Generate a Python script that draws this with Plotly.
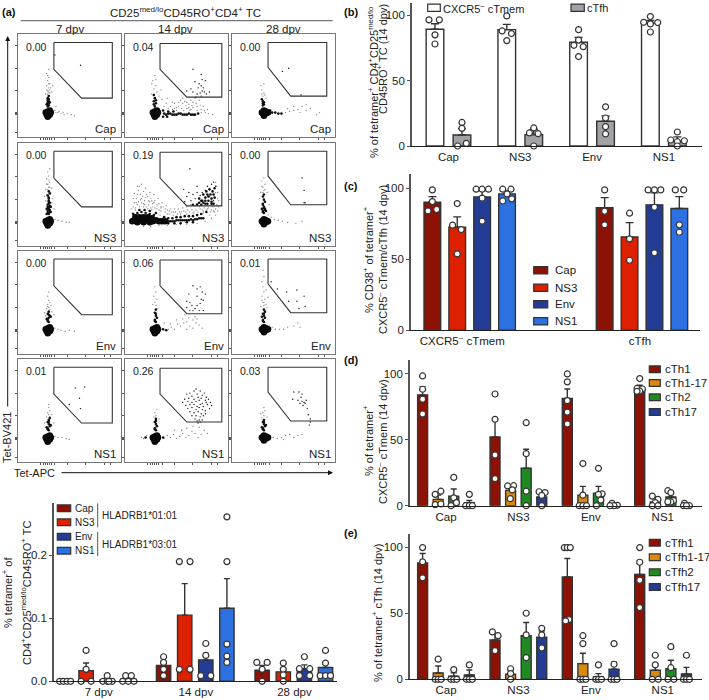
import plotly.graph_objects as go

W, H = 709, 700
FONT = "Liberation Sans"
INK = "#333333"
AX = "#555555"

# ---- flow panels, positions are % of panel width / height
blob_core = [(28, 22), (31, 22), (29, 25), (31, 26), (29, 20), (32, 24), (27, 24)]
blob_core_c3 = [(30, 23), (33, 23), (31, 26), (33, 25), (31, 21), (35, 24), (29, 24)]

cap7_mid = [(29, 30), (30, 31), (29, 32), (30, 33), (29, 34), (30, 35), (29, 36), (30, 37), (29, 38), (30, 40), (28, 32), (31, 34)]
cap7_dust = [(29, 45), (30, 48), (28, 50), (31, 52), (29, 55), (30, 58), (28, 62), (31, 46), (27, 42), (33, 44),
             (36, 26), (39, 24), (42, 23), (45, 22), (48, 23), (52, 22), (55, 21), (37, 30), (34, 50), (30, 66),
             (29, 42), (31, 43), (30, 44), (28, 46), (32, 48), (30, 52), (29, 60), (37, 24), (40, 25), (44, 24)]
cap7_dots = [(61, 70), (36, 80)]

cap14_mid = [(29, 30), (28, 32), (30, 33), (28, 35), (30, 36), (29, 38), (28, 41), (38, 23), (40, 22), (42, 23), (44, 23),
             (46, 22), (48, 22), (50, 22), (52, 23), (54, 23), (56, 22), (58, 22), (60, 22), (62, 23), (64, 22),
             (66, 22), (68, 22), (71, 23), (37, 26), (42, 25), (47, 25), (37, 20), (41, 20)]
cap14_dust = [(28, 47), (30, 50), (27, 55), (31, 44), (26, 42), (33, 40), (36, 37), (40, 33), (44, 30), (48, 28),
              (52, 30), (56, 33), (60, 28), (64, 27), (54, 36), (58, 35), (62, 32), (66, 34), (70, 30), (74, 27),
              (78, 24), (81, 23), (85, 22), (72, 36), (68, 38), (76, 30), (50, 26), (57, 26), (63, 26), (70, 26),
              (46, 34), (30, 56), (26, 52), (29, 60), (35, 46), (41, 38), (74, 24), (66, 29), (80, 27), (38, 30),
              (42, 28), (46, 27), (50, 29), (55, 28), (59, 31), (62, 29), (65, 31), (69, 33), (73, 31), (77, 26),
              (52, 34), (48, 33), (60, 34), (64, 36), (56, 38)]
cap14_dots = [(66, 66), (74, 61), (75, 56), (68, 54), (72, 52), (78, 55), (76, 48), (71, 48), (64, 47), (60, 45),
              (75, 45), (73, 43), (77, 44), (66, 44), (79, 42), (70, 42), (74, 40), (69, 39), (82, 44), (74, 50)]

cap28_mid = [(30, 31), (31, 32), (30, 33), (31, 34), (30, 35), (29, 37), (39, 24), (42, 24), (45, 23), (48, 23), (37, 26)]
cap28_dust = [(30, 40), (31, 43), (29, 46), (28, 50), (31, 52), (33, 38), (52, 24), (56, 25), (60, 26), (64, 27),
              (68, 30), (72, 26), (76, 28), (60, 30), (66, 24), (82, 22), (85, 24), (54, 28), (72, 32), (29, 42), (32, 41)]
cap28_dots = [(49, 64), (55, 67), (67, 41)]

ns37_mid = [(30, 31), (29, 32), (31, 33), (29, 34), (31, 35), (30, 36), (30, 37), (29, 38), (31, 39), (29, 40), (31, 42),
            (30, 41), (30, 43), (30, 44), (30, 46), (30, 47), (29, 49), (31, 51), (30, 53), (30, 38), (28, 36), (32, 33),
            (28, 31), (32, 38)]
ns37_dust = [(30, 57), (29, 60), (31, 62), (28, 65), (30, 68), (29, 72), (27, 55), (33, 56), (26, 48), (34, 46),
             (36, 26), (39, 25), (43, 24), (47, 23), (50, 23), (35, 36), (31, 75), (28, 60), (29, 55), (31, 57),
             (30, 64), (28, 50), (32, 52), (27, 44), (33, 42)]
ns37_dots = []

ns314_core = [(9, 25), (12, 26), (15, 25), (18, 26), (21, 25), (24, 25), (27, 24), (30, 25), (33, 24), (12, 23),
              (18, 23), (24, 23), (7, 24), (36, 24), (39, 24), (10, 28), (14, 28), (18, 28), (22, 28), (26, 27)]
ns314_mid = [(42, 24), (44, 24), (46, 24), (48, 24), (50, 25), (52, 25), (54, 25), (56, 25), (58, 25), (60, 25), (62, 25),
             (64, 26), (66, 25), (68, 26), (70, 26), (72, 27), (74, 27), (76, 27), (12, 32), (16, 33), (20, 32), (24, 31),
             (28, 30), (8, 31), (14, 35), (19, 35), (24, 34), (30, 32), (38, 28), (42, 27), (46, 27), (50, 28), (54, 28),
             (58, 29), (62, 29), (66, 29), (70, 30), (74, 31), (79, 33), (42, 22), (48, 22), (54, 22), (60, 23), (66, 23),
             (72, 46), (75, 44), (78, 47), (81, 44), (84, 46), (76, 42), (80, 41), (83, 50), (85, 53), (87, 56),
             (80, 50), (76, 50), (72, 42), (84, 41), (87, 47), (82, 55), (78, 41), (74, 40), (78, 44), (81, 48), (84, 43),
             (79, 53), (86, 50), (74, 44), (70, 40), (66, 40), (86, 41)]
ns314_dust = [(8, 38), (12, 40), (16, 42), (11, 46), (15, 50), (19, 44), (23, 40), (27, 38), (31, 36), (35, 34),
              (14, 38), (18, 38), (22, 36), (26, 35), (10, 35), (7, 32), (9, 42), (13, 54), (17, 48), (21, 50),
              (25, 46), (29, 44), (33, 41), (37, 38), (41, 35), (45, 33), (49, 33), (53, 33), (57, 34), (61, 35),
              (65, 35), (69, 35), (73, 36), (77, 37), (81, 37), (85, 38), (89, 40), (90, 46), (90, 52), (89, 58),
              (60, 38), (64, 40), (68, 39), (72, 38), (76, 34), (80, 36), (84, 35), (88, 36), (56, 37), (52, 36),
              (48, 36), (44, 36), (40, 39), (36, 42), (32, 46), (28, 50), (24, 52), (20, 56), (16, 60), (12, 58),
              (86, 34), (90, 34), (82, 30), (76, 32), (66, 32), (60, 31), (54, 31), (47, 30), (41, 31), (34, 30),
              (18, 19), (25, 19), (33, 20), (41, 20), (50, 21), (60, 21), (70, 22), (78, 24), (84, 27), (88, 30),
              (10, 37), (13, 43), (18, 41), (21, 38), (25, 37), (29, 37), (33, 35), (12, 50), (16, 46), (20, 47),
              (24, 43), (28, 42), (35, 38), (39, 36), (43, 34), (9, 51), (14, 58), (18, 53), (22, 48), (26, 44),
              (6, 36), (8, 46), (11, 42), (15, 45), (19, 40), (23, 44), (27, 41), (31, 40), (35, 37), (39, 33),
              (43, 31), (47, 33), (51, 31), (55, 33), (59, 33), (63, 33), (67, 33), (71, 33), (75, 35), (79, 35),
              (83, 33), (87, 33), (91, 38), (91, 44), (88, 52), (88, 62)]
ns314_dots = [(63, 75), (70, 58), (57, 55), (62, 52), (66, 50), (60, 48), (58, 43), (64, 44), (68, 46), (70, 41),
              (73, 49), (75, 52), (78, 54), (80, 58), (84, 60), (86, 62), (88, 58), (82, 48), (86, 44), (70, 52)]

ns328_mid = [(31, 32), (30, 33), (30, 34), (32, 35), (32, 36), (31, 37), (31, 38), (30, 40), (30, 41), (32, 43), (31, 45),
             (30, 48), (31, 50), (33, 34), (29, 36)]
ns328_dust = [(31, 54), (30, 57), (32, 60), (29, 63), (31, 66), (28, 52), (34, 52), (27, 46), (36, 40), (38, 28),
              (41, 26), (45, 25), (49, 24), (54, 23), (62, 22), (68, 24), (35, 30), (30, 52), (32, 55), (29, 58)]
ns328_dots = [(68, 66), (70, 54), (70, 42), (71, 42)]

env7_mid = [(30, 31), (29, 32), (29, 33), (30, 35), (31, 37), (29, 39), (30, 41), (28, 34), (32, 36), (30, 38)]
env7_dust = [(30, 45), (29, 48), (31, 50), (30, 52), (29, 56), (28, 44), (32, 47), (30, 60), (36, 25), (39, 24),
             (42, 23), (46, 22), (50, 23), (55, 22), (35, 38), (26, 40), (31, 43), (29, 46), (27, 37), (33, 41)]
env7_dots = []

env14_mid = [(30, 31), (29, 32), (29, 33), (31, 35), (30, 37), (29, 40), (30, 43), (37, 24), (40, 23), (30, 39)]
env14_dust = [(30, 47), (29, 50), (31, 53), (28, 56), (30, 60), (29, 65), (27, 48), (32, 44), (42, 24), (45, 26),
              (48, 24), (51, 29), (54, 27), (57, 30), (60, 31), (63, 27), (66, 33), (69, 30), (72, 28), (75, 25),
              (50, 33), (56, 34), (62, 35), (68, 36), (60, 24), (66, 25), (44, 29), (38, 30), (70, 34), (58, 38)]
env14_dots = [(66, 66), (70, 63), (73, 65), (62, 58), (75, 60), (78, 58), (70, 56), (74, 53), (60, 51), (63, 50),
              (73, 49), (76, 52), (65, 47), (70, 47), (60, 45), (68, 44), (72, 42), (76, 42), (63, 42), (66, 42)]

env28_mid = [(31, 31), (30, 32), (30, 33), (32, 35), (31, 37), (30, 39), (32, 41), (31, 43), (29, 36), (31, 39)]
env28_dust = [(31, 47), (30, 50), (32, 53), (29, 56), (31, 60), (30, 65), (29, 70), (31, 75), (30, 81), (28, 46),
              (34, 45), (36, 28), (39, 26), (42, 24), (46, 24), (50, 24), (54, 26), (60, 27), (64, 30), (66, 26),
              (35, 55), (33, 62), (31, 50), (29, 52), (33, 48)]
env28_dots = [(38, 70), (44, 63), (53, 60), (63, 62), (55, 51), (63, 51), (70, 56), (65, 44), (71, 46)]

ns17_mid = [(30, 31), (29, 32), (29, 33), (31, 35), (30, 37), (29, 39), (30, 41), (31, 43), (28, 34), (32, 36), (30, 39)]
ns17_dust = [(30, 46), (29, 48), (31, 50), (30, 53), (28, 44), (33, 46), (36, 25), (39, 24), (43, 24), (47, 23),
             (50, 22), (35, 38), (26, 38), (30, 56)]
ns17_dots = [(56, 72), (65, 73), (60, 62), (61, 52), (50, 56)]

ns114_mid = [(30, 31), (29, 32), (29, 33), (31, 35), (30, 37), (29, 39), (30, 42), (37, 24), (20, 24), (30, 40)]
ns114_dust = [(30, 45), (29, 48), (31, 51), (28, 44), (33, 42), (18, 23), (16, 24), (21, 26), (38, 23), (41, 26),
              (44, 24), (47, 27), (50, 23), (53, 25), (56, 28), (59, 24), (62, 26), (65, 30), (68, 28), (71, 24),
              (74, 27), (77, 31), (80, 28), (60, 33), (66, 35), (72, 34), (55, 31), (48, 31)]
ns114_dots = [(69, 71), (63, 67), (67, 69), (73, 69), (77, 67), (60, 66), (65, 64), (70, 66), (75, 65), (79, 63),
              (58, 61), (62, 62), (67, 61), (71, 63), (74, 62), (78, 60), (81, 61), (56, 58), (61, 59), (65, 58),
              (69, 59), (72, 60), (75, 57), (79, 58), (83, 58), (59, 55), (63, 56), (67, 56), (70, 54), (73, 56),
              (76, 54), (80, 56), (84, 55), (61, 52), (65, 53), (69, 51), (72, 53), (75, 51), (78, 50), (82, 52),
              (63, 49), (67, 48), (71, 49), (74, 47), (78, 47), (65, 45), (69, 45), (73, 44), (76, 45), (68, 42),
              (72, 41), (75, 41), (73, 39), (71, 38), (70, 40)]

ns128_mid = [(31, 31), (30, 32), (30, 33), (32, 35), (31, 37), (30, 39), (31, 41), (29, 34), (33, 36), (31, 39)]
ns128_dust = [(31, 45), (30, 48), (32, 50), (29, 43), (31, 53), (34, 44), (36, 26), (40, 24), (44, 23), (48, 24),
              (52, 26), (56, 27), (60, 24), (64, 26), (68, 27), (50, 22), (28, 47)]
ns128_dots = [(60, 68), (65, 68), (68, 66), (59, 61), (67, 63), (64, 60), (68, 59), (66, 57), (70, 58), (72, 60),
              (69, 55), (71, 57), (73, 52), (74, 46), (76, 42), (76, 39), (75, 36)]

flow_freq = [["0.00", "0.04", "0.00"], ["0.00", "0.19", "0.00"], ["0.00", "0.06", "0.01"], ["0.01", "0.26", "0.03"]]
flow_names = ["Cap", "NS3", "Env", "NS1"]
flow_days = ["7 dpv", "14 dpv", "28 dpv"]
flow_core = [[blob_core, blob_core, blob_core_c3], [blob_core, ns314_core, blob_core_c3],
             [blob_core, blob_core, blob_core_c3], [blob_core, blob_core, blob_core_c3]]
flow_mid = [[cap7_mid, cap14_mid, cap28_mid], [ns37_mid, ns314_mid, ns328_mid],
            [env7_mid, env14_mid, env28_mid], [ns17_mid, ns114_mid, ns128_mid]]
flow_dust = [[cap7_dust, cap14_dust, cap28_dust], [ns37_dust, ns314_dust, ns328_dust],
             [env7_dust, env14_dust, env28_dust], [ns17_dust, ns114_dust, ns128_dust]]
flow_dots = [[cap7_dots, cap14_dots, cap28_dots], [ns37_dots, ns314_dots, ns328_dots],
             [env7_dots, env14_dots, env28_dots], [ns17_dots, ns114_dots, ns128_dots]]
gate_x = [[35, 92, 92, 62, 35, 35], [34, 94, 94, 60, 34, 34], [35, 92, 92, 57, 35, 35]]
gate_y = [[92, 92, 38, 38, 66, 92], [91, 91, 39, 39, 66, 91], [92, 92, 40, 40, 68, 92]]

# ---- bars: one list per bar, points are (sideways shift, value)
RED_D, RED, BLUE_D, BLUE = "#8c1206", "#dc2000", "#233c96", "#2d70e2"
ORANGE, GREEN = "#d98a0e", "#1f8a22"

time_means = [0, 0.017, 0.002, 0.004, 0.025, 0.105, 0.034, 0.116, 0.0175, 0.015, 0.02, 0.022]
time_sems = [0, 0.012, 0.002, 0.002, 0.007, 0.05, 0.0105, 0.047, 0.0075, 0.006, 0.006, 0.008]
time_points = [
    [(-16, 0), (-5, 0), (6, 0), (17, 0)],
    [(0, 0.049), (0, 0.019), (-15, 0), (15, 0)],
    [(0, 0.009), (-13, 0), (0, 0), (15, 0), (5, 0)],
    [(-8, 0.009), (9, 0.009), (-17, 0), (0, 0), (17, 0)],
    [(0, 0.039), (0, 0.03), (0, 0.019), (0, 0.009)],
    [(-16, 0.19), (16, 0.19), (-16, 0.019), (16, 0.019)],
    [(0, 0.06), (0, 0.041), (-15, 0.009), (15, 0.009)],
    [(0, 0.261), (0, 0.19), (0, 0.059), (0, 0.04), (0, 0.03)],
    [(-16, 0.03), (15, 0.03), (0, 0.019), (0, 0)],
    [(0, 0.029), (0, 0.019), (0, 0.01), (0, 0)],
    [(0, 0.039), (-15, 0.02), (16, 0.02), (-15, 0.009), (16, 0.009)],
    [(0, 0.049), (0, 0.029), (-16, 0.009), (0, 0.009), (15, 0.009)],
]
time_pos = [0, 1, 2, 3, 4.67, 5.67, 6.67, 7.67, 9.34, 10.34, 11.34, 12.34]
time_ticks = [1.6, 6.2, 10.87]
time_labels = ["7 dpv", "14 dpv", "28 dpv"]

phen_means = [89.3, 8.4, 89, 8.7, 79.3, 18.9, 94, 3.6]
phen_sems = [4.2, 4.9, 4, 4.1, 3.7, 4.1, 2, 3.4]
phen_points = [
    [(-18, 96.5), (13, 96.5), (0, 85), (0, 78)],
    [(0, 18), (0, 13.5), (-13, 0), (13, 2)],
    [(0, 99.5), (-14, 88), (14, 86), (0, 80.6)],
    [(0, 13.8), (-13, 10), (13, 9.4), (0, 0)],
    [(0, 89), (0, 81), (-14, 77), (14, 76), (0, 68.4)],
    [(0, 30), (0, 21.4), (0, 14.8), (0, 9.2)],
    [(0, 99), (-20, 94.6), (22, 94.4), (0, 93.4), (0, 87.2)],
    [(0, 10.7), (-20, 4.6), (21, 4), (0, 3.3), (0, 0)],
]
phen_pos = [-0.188, 0.188, 0.812, 1.188, 1.812, 2.188, 2.812, 3.188]
phen_colors = ["#ffffff", "#a2a2a6"] * 4
phen_ticks = [0, 1, 2, 3]

cd38_means = [90.1, 72.5, 93.9, 96, 86.2, 65.7, 88.3, 85.7]
cd38_sems = [4, 7.3, 4.5, 2, 7.2, 10.1, 8.4, 8.4]
cd38_points = [
    [(0, 98.8), (0, 90.6), (-13, 84), (13, 85)],
    [(0, 89.2), (-14, 74), (12, 70.9), (0, 53.8)],
    [(-18, 99.3), (0, 99.3), (19, 99.3), (0, 93), (0, 76.8)],
    [(-13, 99.3), (12, 99.3), (0, 96), (-13, 91), (14, 92.5)],
    [(0, 98.8), (0, 83.8), (0, 74.2)],
    [(0, 82.4), (0, 64.3), (0, 49.3)],
    [(-19, 98.8), (0, 98.8), (19, 98.8), (0, 86.6), (0, 54.5)],
    [(-12, 98.8), (13, 98.8), (0, 74.2), (0, 69)],
]
cd38_pos = [0, 1, 2, 3, 6.92, 7.92, 8.92, 9.92]
cd38_ticks = [1.2, 8.34]
cd38_labels = ["CXCR5<sup>–</sup> cTmem", "cTfh"]

th_means = [84, 4.8, 7.3, 2.3, 52.2, 11.6, 28.4, 6.6, 81.5, 8, 9.4, 0.5, 87.3, 2.8, 6.6, 0.8]
th_sems = [6.4, 3.2, 5.4, 1.7, 14.6, 2.8, 14.4, 2.8, 7.1, 6.7, 5.3, 0.4, 4.1, 3.8, 2.8, 0.4]
th_points = [
    [(0, 98.5), (0, 88.4), (0, 80.8), (0, 69.6)],
    [(-9, 8.6), (8, 11), (-9, 0.8), (8, 1.3)],
    [(0, 21.5), (0, 6), (-8, 0), (8, 2.3)],
    [(0, 8.6), (-11, 0), (0, 0), (9, 0)],
    [(0, 84.8), (0, 65.6), (0, 38.5), (0, 20.5)],
    [(-9, 15), (9, 15.2), (5, 12), (-1, 5.3)],
    [(0, 63), (0, 39.5), (0, 11), (0, 0)],
    [(-8, 10.6), (10, 10), (0, 7.8), (0, 0)],
    [(0, 100), (0, 94), (0, 79.7), (0, 71), (0, 62)],
    [(0, 32), (0, 8), (-11, 0), (0, 0), (11, 0)],
    [(0, 28.4), (11, 9), (0, 8.6), (7, 4.3), (-6, 0)],
    [(-6, 1.8), (10, 0.3), (0, 0), (-12, 0)],
    [(0, 96.5), (-8, 89), (8, 88.6), (0, 87), (-8, 86.8)],
    [(-9, 7.3), (8, 4.8), (0, 2.3), (-9, 0), (8, 0)],
    [(-9, 11.4), (0, 9.9), (8, 3.8), (0, 2.8), (-9, 3)],
    [(-6, 1.8), (-9, 0), (9, 0), (0, 0)],
]
fh_means = [88.1, 4.8, 2.3, 3.3, 29.8, 3.8, 33, 31.8, 77.5, 11.9, 1.8, 7.6, 79.3, 6.8, 8, 4]
fh_sems = [7.1, 5.3, 2.7, 3.7, 5, 2.5, 10, 4.8, 13.9, 7.8, 2.5, 5.4, 10.7, 5.2, 6.4, 5]
fh_points = [
    [(0, 99.7), (0, 88.9), (0, 76.8)],
    [(0, 15.2), (-9, 0), (0, 0), (9, 0)],
    [(0, 7.3), (-9, 0), (0, 0), (9, 0)],
    [(0, 10.9), (-9, 0), (0, 0), (9, 0)],
    [(-8, 35.9), (9, 33), (0, 21.7)],
    [(0, 8), (0, 4.3), (0, 0)],
    [(0, 50), (0, 33.6), (0, 16.4)],
    [(0, 38.6), (0, 33.6), (0, 23.7)],
    [(-9, 99.7), (0, 99.7), (9, 99.7), (5, 45.2), (-5, 44.2)],
    [(0, 33), (0, 27), (-9, 0), (0, 0), (9, 0)],
    [(0, 10.9), (-8, 0), (0, 0), (9, 0)],
    [(0, 27), (0, 11.4), (-9, 0), (0, 0), (9, 0)],
    [(0, 99.7), (0, 88.6), (0, 75), (0, 54.3)],
    [(0, 18.2), (0, 10.9), (-9, 0), (9, 0)],
    [(0, 24.7), (0, 8.8), (-9, 0), (9, 0)],
    [(0, 18.2), (-9, 0), (0, 0), (9, 0)],
]
subset_pos = [0, 1, 2, 3, 4.65, 5.65, 6.65, 7.65, 9.29, 10.29, 11.29, 12.29, 13.94, 14.94, 15.94, 16.94]
subset_colors = [RED_D, ORANGE, GREEN, BLUE_D] * 4
subset_ticks = [1.5, 6.15, 10.8, 15.42]
antigens = ["Cap", "NS3", "Env", "NS1"]

fig = go.Figure()
annotations = []
shapes = []
axes = {}
axis_no = 0


def text(x, y, s, size=11, anchor="center", angle=0, bold=False, color="#222222"):
    annotations.append(dict(x=x / W, y=1 - y / H, xref="paper", yref="paper", text=f"<b>{s}</b>" if bold else s,
                            showarrow=False, xanchor=anchor, yanchor="middle", textangle=angle,
                            font=dict(family=FONT, size=size, color=color)))


def new_axes(left, right, top, bottom):
    global axis_no
    axis_no += 1
    suffix = "" if axis_no == 1 else str(axis_no)
    axes["xaxis" + suffix] = dict(domain=[left / W, right / W], anchor="y" + suffix, automargin=False)
    axes["yaxis" + suffix] = dict(domain=[1 - bottom / H, 1 - top / H], anchor="x" + suffix, automargin=False)
    return suffix


def flow_scatter(suffix, pts, size, color):
    if pts:
        fig.add_trace(go.Scatter(x=[p[0] for p in pts], y=[p[1] for p in pts], mode="markers", xaxis="x" + suffix,
                                 yaxis="y" + suffix, showlegend=False,
                                 marker=dict(size=size, color=color, line=dict(width=0))))


def bar_panel(box, pos, means, sems, colors, points, xrange, yrange, unit, ticks, labels, yticks, ylabels):
    s = new_axes(*box)
    fig.add_trace(go.Bar(x=pos, y=means, width=unit["bar"], xaxis="x" + s, yaxis="y" + s, showlegend=False,
                         marker=dict(color=colors, line=dict(color=INK, width=1.4)),
                         error_y=dict(type="data", symmetric=False, array=sems, arrayminus=[0] * len(sems),
                                      color=INK, thickness=1.4, width=unit["cap"])))
    for p, pts in zip(pos, points):
        fig.add_trace(go.Scatter(x=[p + d / unit["shift"] for d, v in pts], y=[v for d, v in pts], mode="markers",
                                 xaxis="x" + s, yaxis="y" + s, showlegend=False, cliponaxis=False,
                                 marker=dict(size=6, color="white", line=dict(color=INK, width=1.2))))
    axes["xaxis" + s].update(range=xrange, showgrid=False, zeroline=False, showline=True, linecolor="#222222",
                             linewidth=1.2, tickvals=ticks, ticktext=labels, ticks="",
                             tickfont=dict(family=FONT, size=11.5, color="#222222"))
    axes["yaxis" + s].update(range=yrange, showgrid=False, zeroline=False, showline=True, linecolor=AX, linewidth=1.6,
                             tickvals=yticks, ticktext=ylabels, ticks="outside", ticklen=3, tickcolor=AX, tickwidth=1.2,
                             tickfont=dict(family=FONT, size=11.5, color="#222222"))


def legend_box(x0, x1, yc, h, color):
    shapes.append(dict(type="rect", xref="paper", yref="paper", x0=x0 / W, x1=x1 / W, y0=1 - (yc - h / 2) / H,
                       y1=1 - (yc + h / 2) / H, fillcolor=color, line=dict(color=INK, width=1.2)))


def line(x0, y0, x1, y1, color, width):
    shapes.append(dict(type="line", xref="paper", yref="paper", x0=x0 / W, x1=x1 / W, y0=1 - y0 / H, y1=1 - y1 / H,
                       line=dict(color=color, width=width)))


def arrow(x0, y0, x1, y1):
    annotations.append(dict(x=x1 / W, y=1 - y1 / H, xref="paper", yref="paper", ax=x0 - x1, ay=y0 - y1, axref="pixel",
                            ayref="pixel", text="", showarrow=True, arrowhead=2, arrowsize=1, arrowwidth=1,
                            arrowcolor="#111111"))


# ---- (a) flow grid
col_edges = [(18, 120.5), (125, 228), (232, 335)]
row_edges = [(34.3, 137.3), (143, 246), (250.7, 354), (359, 462.3)]
for r, (top, bottom) in enumerate(row_edges):
    for c, (left, right) in enumerate(col_edges):
        s = new_axes(left, right, top, bottom)
        for key, ticks in (("xaxis", [22, 25, 27, 29, 31, 33, 36, 48, 66, 84, 90]), ("yaxis", [5, 22, 23, 24, 45, 67, 89])):
            axes[key + s].update(range=[0, 100], showgrid=False, zeroline=False, showline=True, mirror=True,
                                 linecolor="#777777", linewidth=1.3, tickvals=ticks, showticklabels=False,
                                 ticks="outside", ticklen=2, tickcolor="#555555", tickwidth=0.8)
        flow_scatter(s, flow_dust[r][c], 1.4, "#8a8a8a")
        flow_scatter(s, flow_mid[r][c], 2.6, "#111111")
        flow_scatter(s, flow_core[r][c], 6.5, "#0a0a0a")
        flow_scatter(s, flow_dots[r][c], 1.4, "#111111")
        fig.add_trace(go.Scatter(x=gate_x[c], y=gate_y[c], mode="lines", xaxis="x" + s, yaxis="y" + s, showlegend=False,
                                 line=dict(color="#333333", width=1.1)))
        annotations.append(dict(x=18, y=88, xref="x" + s, yref="y" + s, text=flow_freq[r][c], showarrow=False,
                                font=dict(family=FONT, size=10.5, color="#222222")))
        annotations.append(dict(x=98, y=8, xref="x" + s, yref="y" + s, text=flow_names[r], showarrow=False,
                                xanchor="right", font=dict(family=FONT, size=11.5, color="#222222")))

text(185, 12, "CD25<sup>med/lo</sup>CD45RO<sup>+</sup>CD4<sup>+</sup> TC", size=11.5)
line(20.7, 20.7, 332.7, 20.7, "#777777", 1.2)
for x, day in zip((70, 175, 283), flow_days):
    text(x, 29, day, size=11.5)
text(7, 438, "Tet-BV421", size=11, angle=-90)
text(34, 472.7, "Tet-APC", size=11)
arrow(7.7, 408, 7.7, 36)
arrow(60, 472.7, 333, 472.7)

# ---- bottom left, time course
bar_panel((54, 336.7, 503.3, 681.3), time_pos, time_means, time_sems, [RED_D, RED, BLUE_D, BLUE] * 3, time_points,
          [-0.52, 12.87], [0, 0.2825], dict(bar=0.68, cap=3, shift=63.3), time_ticks, time_labels,
          [0, 0.1, 0.2], ["0.0", "0.1", "0.2"])
text(7, 593, "% tetramer<sup>+</sup> of", angle=-90)
text(26, 593, "CD4<sup>+</sup>CD25<sup>med/lo</sup>CD45RO<sup>+</sup> TC", angle=-90)
for yc, name, color in zip((508.3, 522.3, 536.7, 550.7), antigens, (RED_D, RED, BLUE_D, BLUE)):
    legend_box(57.3, 70.7, yc, 6.7, color)
    text(72.7, yc, name, size=10, anchor="left")
line(97.7, 503.3, 97.7, 527.3, "#555555", 1)
line(97.7, 531.7, 97.7, 556, "#555555", 1)
text(100, 515, "HLADRB1*01:01", size=10, anchor="left")
text(100, 544, "HLADRB1*03:01", size=10, anchor="left")

# ---- (b)
bar_panel((412, 701.7, 2.7, 146), phen_pos, phen_means, phen_sems, phen_colors, phen_points,
          [-0.508, 3.527], [0, 109.6], dict(bar=0.246, cap=4, shift=215.5), phen_ticks, antigens,
          [0, 50, 100], ["0", "50", "100"])
text(373, 82, "% of tetramer<sup>+</sup> CD4<sup>+</sup>CD25<sup>med/lo</sup>", angle=-90)
text(382, 59, "CD45RO<sup>+</sup> TC (14 dpv)", angle=-90)
legend_box(427.7, 440.3, 7.7, 7.3, "#ffffff")
text(441, 7.7, "CXCR5<sup>–</sup> cTmem", anchor="left")
legend_box(571, 584.3, 7.7, 7.3, "#a2a2a6")
text(585, 7.7, "cTfh", anchor="left")

# ---- (c)
bar_panel((411, 700, 174, 330.3), cd38_pos, cd38_means, cd38_sems, [RED_D, RED, BLUE_D, BLUE] * 2, cd38_points,
          [-0.857, 10.75], [0, 110], dict(bar=0.67, cap=4, shift=74.7), cd38_ticks, cd38_labels,
          [0, 50, 100], ["0", "50", "100"])
text(368, 260, "% CD38<sup>+</sup> of tetramer<sup>+</sup>", angle=-90)
text(382, 260, "CXCR5<sup>–</sup> cTmem/cTfh (14 dpv)", angle=-90)
for yc, name, color in zip((270.3, 287.7, 304.3, 321.3), antigens, (RED_D, RED, BLUE_D, BLUE)):
    legend_box(533.7, 547.7, yc, 7.3, color)
    text(553, yc, name, size=11.5, anchor="left")

# ---- (d)
bar_panel((410, 701.7, 360, 505.7), subset_pos, th_means, th_sems, subset_colors, th_points,
          [-0.81, 17.92], [0, 110.6], dict(bar=0.64, cap=3, shift=46.7), subset_ticks, antigens,
          [0, 50, 100], ["0", "50", "100"])
text(368, 441, "% of tetramer<sup>+</sup>", angle=-90)
text(382, 442, "CXCR5<sup>–</sup> cTmem (14 dpv)", angle=-90)
for yc, name, color in zip((369.3, 383, 397.3, 412), ("cTh1", "cTh1-17", "cTh2", "cTh17"), subset_colors):
    legend_box(649.3, 660.3, yc, 6.7, color)
    text(662.7, yc, name, size=11.5, anchor="left")

# ---- (e)
bar_panel((410, 701.7, 534, 679.3), subset_pos, fh_means, fh_sems, subset_colors, fh_points,
          [-0.81, 17.92], [0, 110], dict(bar=0.64, cap=3, shift=46.7), subset_ticks, antigens,
          [0, 50, 100], ["0", "50", "100"])
text(377, 613, "% of tetramer<sup>+</sup> cTfh (14 dpv)", angle=-90)
for yc, name, color in zip((542.7, 557.3, 572.3, 587), ("cTfh1", "cTfh1-17", "cTfh2", "cTfh17"), subset_colors):
    legend_box(649.3, 660.3, yc, 6.7, color)
    text(662.7, yc, name, size=11.5, anchor="left")

# panel letters
for x, y, letter in ((9, 12, "(a)"), (351, 12, "(b)"), (351, 186, "(c)"), (351, 360, "(d)"), (351, 533, "(e)")):
    text(x, y, letter, size=11, bold=True, color="#111111")

fig.update_layout(width=W, height=H, autosize=False, margin=dict(l=0, r=0, t=0, b=0), paper_bgcolor="white",
                  plot_bgcolor="white", showlegend=False, barmode="overlay", annotations=annotations, shapes=shapes,
                  **axes)
# the page's default 8px body margin would push the figure off its canvas
fig.write_html("out.html", config={"displayModeBar": False}, post_script="document.body.style.margin = '0';")
